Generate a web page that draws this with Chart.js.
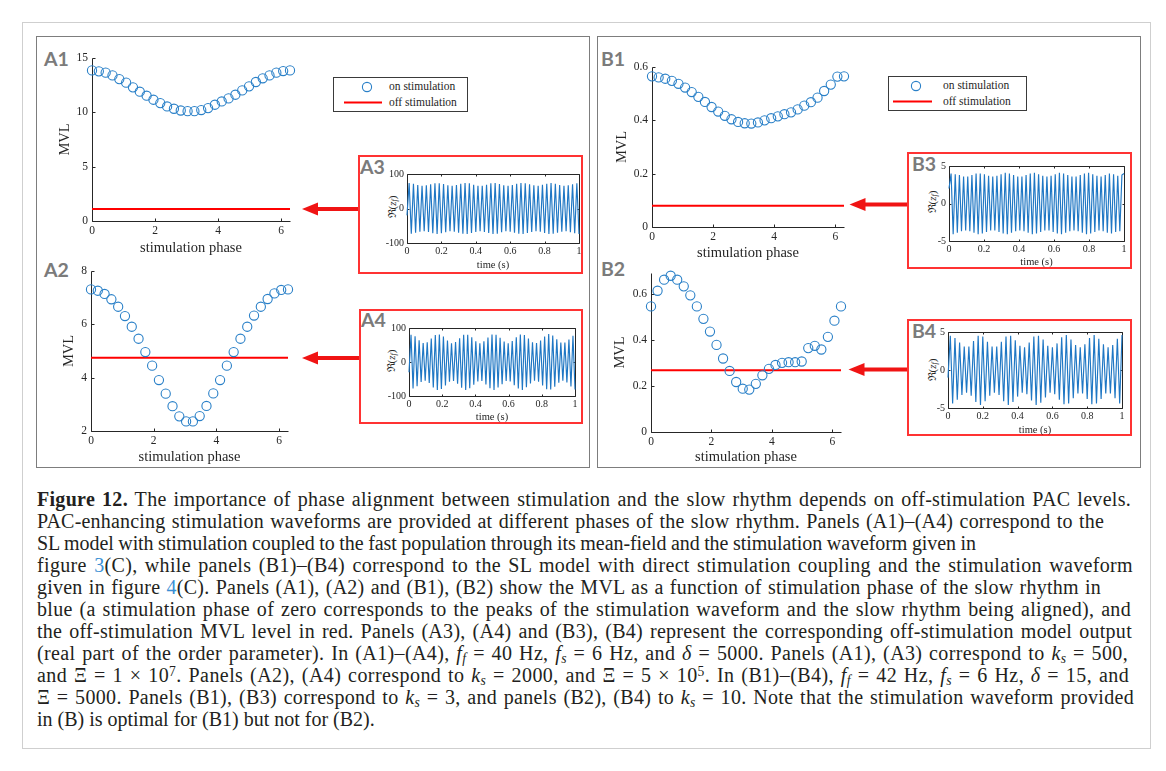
<!DOCTYPE html>
<html><head><meta charset="utf-8">
<script src="https://cdn.jsdelivr.net/npm/chart.js@4.4.1/dist/chart.umd.min.js"></script>
<style>
html,body{margin:0;padding:0;background:#fff}
body{width:1166px;height:771px;position:relative;overflow:hidden;font-family:'Liberation Serif',serif;color:#231f20}
canvas{position:absolute}
.box{position:absolute;box-sizing:border-box}
.plab{position:absolute;font:bold 19.5px/1 Lato,'Open Sans',sans-serif;color:#7b7b7b}
.leg{position:absolute;box-sizing:border-box;border:1px solid #3a3a3a;background:#fff}
.leg span{position:absolute;font:11.5px/1 'Liberation Serif',serif;color:#262626;white-space:nowrap}
.ylab{position:absolute;font:11px/1 'Liberation Serif','DejaVu Serif',serif;color:#262626;white-space:nowrap;transform:translate(-50%,-50%) rotate(-90deg)}
.ylab sub{font-size:0.7em;vertical-align:-0.2em;line-height:0}
.cl{position:absolute;left:37px;white-space:nowrap;font:20px/22px 'Liberation Serif',serif;color:#231f20}
.cl sub{font-size:0.68em;vertical-align:-0.25em;line-height:0}
.cl sup{font-size:0.68em;vertical-align:0.45em;line-height:0}
.lnk{color:#3a8fd4}
svg.ov{position:absolute;left:0;top:0}
</style></head><body>

<div class="box" style="left:22px;top:22px;width:1129px;height:727px;border:1px solid #cfcfcf"></div>
<div class="box" style="left:36px;top:36px;width:554px;height:432px;border:1px solid #7d7d7d"></div>
<div class="box" style="left:597px;top:36px;width:544px;height:432px;border:1px solid #7d7d7d"></div>

<div class="box" style="left:358px;top:155px;width:225px;height:119px;border:2px solid #ff3333"></div>
<div class="box" style="left:359px;top:309px;width:224px;height:115px;border:2px solid #ff3333"></div>
<div class="box" style="left:907px;top:152px;width:225px;height:117px;border:2px solid #ff3333"></div>
<div class="box" style="left:907px;top:319px;width:225px;height:117px;border:2px solid #ff3333"></div>

<svg class="ov" width="1166" height="771">
  <g fill="#f01414" stroke="none">
    <rect x="316" y="207" width="42" height="4"/><polygon points="302,209 318,202.5 318,215.5"/>
    <rect x="316" y="356" width="43" height="4"/><polygon points="302,358 318,351.5 318,364.5"/>
    <rect x="863" y="202.5" width="44" height="4"/><polygon points="849.5,204.5 865.5,198 865.5,211"/>
    <rect x="862" y="367.5" width="45" height="4"/><polygon points="848.5,369.5 864.5,363 864.5,376"/>
  </g>
</svg>

<div class="leg" style="left:333px;top:77px;width:135px;height:35px">
  <svg width="60" height="33" style="position:absolute;left:0;top:0"><circle cx="33" cy="9" r="4.6" fill="none" stroke="#2a80c8" stroke-width="1.1"/><line x1="10" y1="24.5" x2="48" y2="24.5" stroke="#ff0000" stroke-width="2"/></svg>
  <span style="left:55px;top:3px">on stimulation</span>
  <span style="left:55px;top:19px">off stimulation</span>
</div>
<div class="leg" style="left:888px;top:76px;width:139px;height:35px">
  <svg width="60" height="33" style="position:absolute;left:0;top:0"><circle cx="27" cy="9" r="4.6" fill="none" stroke="#2a80c8" stroke-width="1.1"/><line x1="4" y1="24.5" x2="43" y2="24.5" stroke="#ff0000" stroke-width="2"/></svg>
  <span style="left:54px;top:3px">on stimulation</span>
  <span style="left:54px;top:19px">off stimulation</span>
</div>

<div class="plab" style="left:44px;top:48.5px">A1</div>
<div class="plab" style="left:44px;top:259.8px">A2</div>
<div class="plab" style="left:601px;top:48.5px">B1</div>
<div class="plab" style="left:601px;top:258.5px">B2</div>
<div class="plab" style="left:360px;top:156.8px">A3</div>
<div class="plab" style="left:361px;top:309.5px">A4</div>
<div class="plab" style="left:912px;top:154px">B3</div>
<div class="plab" style="left:912px;top:321px">B4</div>

<div class="ylab" style="left:392px;top:207px">ℜ(<i>z</i><sub><i>f</i></sub>)</div>
<div class="ylab" style="left:391px;top:361px">ℜ(<i>z</i><sub><i>f</i></sub>)</div>
<div class="ylab" style="left:932px;top:202px">ℜ(<i>z</i><sub><i>f</i></sub>)</div>
<div class="ylab" style="left:932px;top:370px">ℜ(<i>z</i><sub><i>f</i></sub>)</div>

<div class="cl" data-r="1131" style="top:488px"><b>Figure 12.</b> The importance of phase alignment between stimulation and the slow rhythm depends on off-stimulation PAC levels.</div>
<div class="cl" data-r="1104" style="top:510px">PAC-enhancing stimulation waveforms are provided at different phases of the slow rhythm. Panels (A1)–(A4) correspond to the</div>
<div class="cl" data-r="976" style="top:532px">SL model with stimulation coupled to the fast population through its mean-field and the stimulation waveform given in</div>
<div class="cl" data-r="1133" style="top:554px">figure <span class="lnk">3</span>(C), while panels (B1)–(B4) correspond to the SL model with direct stimulation coupling and the stimulation waveform</div>
<div class="cl" data-r="1101" style="top:576px">given in figure <span class="lnk">4</span>(C). Panels (A1), (A2) and (B1), (B2) show the MVL as a function of stimulation phase of the slow rhythm in</div>
<div class="cl" data-r="1131" style="top:598px">blue (a stimulation phase of zero corresponds to the peaks of the stimulation waveform and the slow rhythm being aligned), and</div>
<div class="cl" data-r="1132" style="top:620px">the off-stimulation MVL level in red. Panels (A3), (A4) and (B3), (B4) represent the corresponding off-stimulation model output</div>
<div class="cl" data-r="1128" style="top:642px">(real part of the order parameter). In (A1)–(A4), <i>f<sub>f</sub></i> = 40 Hz, <i>f<sub>s</sub></i> = 6 Hz, and <i>δ</i> = 5000. Panels (A1), (A3) correspond to <i>k<sub>s</sub></i> = 500,</div>
<div class="cl" data-r="1129" style="top:664px">and Ξ = 1 × 10<sup>7</sup>. Panels (A2), (A4) correspond to <i>k<sub>s</sub></i> = 2000, and Ξ = 5 × 10<sup>5</sup>. In (B1)–(B4), <i>f<sub>f</sub></i> = 42 Hz, <i>f<sub>s</sub></i> = 6 Hz, <i>δ</i> = 15, and</div>
<div class="cl" data-r="1134" style="top:686px">Ξ = 5000. Panels (B1), (B3) correspond to <i>k<sub>s</sub></i> = 3, and panels (B2), (B4) to <i>k<sub>s</sub></i> = 10. Note that the stimulation waveform provided</div>
<div class="cl" style="top:708px">in (B) is optimal for (B1) but not for (B2).</div>

<script>
// ---------- data ----------
const PHASE = [0,0.2167,0.4333,0.65,0.8666,1.0833,1.3,1.5166,1.7333,1.95,2.1666,2.3833,2.6,2.8166,3.0333,3.25,3.4666,3.6833,3.9,4.1166,4.3333,4.55,4.7666,4.9833,5.2,5.4166,5.6333,5.85,6.0666,6.2832];
const PHASE_TICKS = [0,2,4,6];
const A1_ON = [13.86,13.77,13.65,13.40,13.06,12.73,12.30,11.90,11.53,11.16,10.85,10.54,10.33,10.17,10.11,10.11,10.21,10.39,10.70,11.00,11.28,11.62,12.02,12.39,12.79,13.13,13.40,13.65,13.80,13.86];
const A1_OFF = 1.1;
const A1_YTICKS = [0,5,10,15];
const A2_ON = [7.31,7.26,7.14,6.94,6.66,6.31,5.91,5.46,4.96,4.45,3.91,3.40,2.93,2.55,2.36,2.36,2.56,2.94,3.41,3.91,4.45,4.96,5.46,5.91,6.33,6.66,6.95,7.16,7.29,7.31];
const A2_OFF = 4.75;
const A2_YTICKS = [2,4,6,8];
const B1_ON = [0.565,0.561,0.556,0.548,0.537,0.523,0.506,0.488,0.469,0.450,0.433,0.417,0.404,0.394,0.389,0.388,0.392,0.400,0.408,0.415,0.423,0.430,0.441,0.455,0.468,0.485,0.510,0.534,0.564,0.565];
const B1_OFF = 0.08;
const B1_YTICKS = [0,0.2,0.4,0.6];
const B2_ON = [0.545,0.613,0.661,0.678,0.661,0.632,0.593,0.545,0.491,0.436,0.378,0.319,0.265,0.217,0.188,0.184,0.209,0.246,0.274,0.291,0.300,0.303,0.303,0.306,0.364,0.374,0.358,0.413,0.483,0.545];
const B2_OFF = 0.268;
const B2_YTICKS = [0,0.2,0.4,0.6];

const TIME_TICKS = [0,0.2,0.4,0.6,0.8,1];
const A_SIG_TICKS = [-100,0,100];
const B_SIG_TICKS = [-5,0,5];
// off-stimulation output: successive extrema of the real part over 1 s
const A3_SIG = [-20,74,-73,72,-70,68,-67,66,-66,67,-68,70,-72,73,-74,73,-72,71,-69,67,-66,66,-67,68,-70,72,-73,74,-74,73,-71,69,-68,66,-66,66,-68,69,-71,73,-74,74,-73,71,-69,67,-66,66,-67,68,-70,72,-73,74,-74,73,-71,70,-68,67,-66,66,-67,69,-71,72,-74,74,-73,72,-70,68,-67,66,-66,67,-69,70,-72,73,-74];
const A4_SIG = [-30,80,-78,76,-71,64,-59,56,-55,58,-62,69,-75,79,-82,81,-79,75,-69,63,-58,55,-56,59,-64,70,-76,80,-82,80,-77,73,-67,61,-57,55,-56,61,-66,72,-77,81,-82,80,-75,71,-65,60,-56,55,-57,62,-68,73,-78,81,-82,79,-74,69,-63,58,-55,56,-58,63,-69,75,-80,82,-81,78,-73,67,-61,57,-55,57,-60,66,-72,77,-81];
const B3_SIG = [2,4.0,-4.1,3.9,-3.9,3.8,-3.7,3.6,-3.6,3.6,-3.7,3.8,-3.9,4.0,-4.1,4.0,-4.0,3.9,-3.8,3.7,-3.6,3.6,-3.6,3.7,-3.8,3.9,-4.0,4.1,-4.1,4.0,-3.9,3.8,-3.7,3.6,-3.6,3.6,-3.7,3.8,-3.9,4.0,-4.1,4.1,-4.0,3.9,-3.8,3.7,-3.6,3.6,-3.6,3.7,-3.8,3.9,-4.0,4.1,-4.1,4.0,-3.9,3.8,-3.7,3.6,-3.6,3.6,-3.7,3.8,-3.9,4.0,-4.1,4.1,-4.0,3.9,-3.8,3.7,-3.6,3.6,-3.7,3.8,-3.9,4.0,-4.0,3.9,-3.8,3.7,-3.7,3.8,4.0];
const B4_SIG = [-1,4.5,-4.4,4.2,-3.9,3.6,-3.3,3.1,-3.0,3.1,-3.4,3.8,-4.2,4.5,-4.6,4.4,-4.1,3.7,-3.4,3.1,-3.0,3.1,-3.3,3.7,-4.1,4.4,-4.6,4.5,-4.2,3.9,-3.5,3.2,-3.0,3.0,-3.2,3.6,-4.0,4.4,-4.6,4.5,-4.3,4.0,-3.6,3.2,-3.0,3.0,-3.2,3.5,-3.9,4.3,-4.5,4.6,-4.4,4.0,-3.7,3.3,-3.1,3.0,-3.1,3.4,-3.8,4.2,-4.5,4.6,-4.4,4.1,-3.8,3.4,-3.1,3.0,-3.1,3.3,-3.7,4.1,-4.4,4.6];

// ---------- styling ----------
const BLUE = '#2a80c8', SIGBLUE = '#1f77c4', RED = '#ff0000', AX = '#262626';
const SERIF = "'Liberation Serif', 'Times New Roman', serif";

const matlabAxes = {
  id: 'matlabAxes',
  beforeDatasetsDraw(chart, args, opts) {
    const {ctx, chartArea: {left, right, top, bottom}, scales: {x, y}} = chart;
    const L = Math.round(left) + 0.5, R = Math.round(right) + 0.5, T = Math.round(top) + 0.5, B = Math.round(bottom) + 0.5;
    const tl = opts.tick || 3;
    ctx.save();
    ctx.strokeStyle = AX; ctx.lineWidth = 1;
    ctx.beginPath();
    ctx.moveTo(L, T); ctx.lineTo(L, B); ctx.lineTo(R, B);
    if (opts.box) { ctx.lineTo(R, T); ctx.lineTo(L, T); }
    x.ticks.forEach(t => {
      const p = Math.round(x.getPixelForValue(t.value)) + 0.5;
      ctx.moveTo(p, B); ctx.lineTo(p, B - tl);
      if (opts.box) { ctx.moveTo(p, T); ctx.lineTo(p, T + tl); }
    });
    y.ticks.forEach(t => {
      const p = Math.round(y.getPixelForValue(t.value)) + 0.5;
      ctx.moveTo(L, p); ctx.lineTo(L + tl, p);
      if (opts.box) { ctx.moveTo(R, p); ctx.lineTo(R - tl, p); }
    });
    ctx.stroke();
    ctx.restore();
  }
};

function makeChart(c) {
  const [l, t, r, b] = c.rect, [pl, pt, pr, pb] = c.pad;
  const L = l - pl, T = t - pt, W = r - l + pl + pr, H = b - t + pt + pb;
  const cv = document.createElement('canvas');
  cv.width = W; cv.height = H;
  Object.assign(cv.style, {left: L + 'px', top: T + 'px', width: W + 'px', height: H + 'px'});
  document.body.appendChild(cv);
  const tf = {family: SERIF, size: c.titleSize || 14.5, lineHeight: 1.2};
  const lh = tf.size * 1.2;
  const xTitle = c.xTitle ? {display: true, text: c.xTitle, font: tf, color: AX,
      padding: {top: 0, bottom: H - lh / 2 - (c.xTitleY - T)}} : {display: false};
  const yTitle = c.yTitle ? {display: true, text: c.yTitle, font: tf, color: AX,
      padding: {top: c.yTitleX - L - lh / 2, bottom: 0}} : {display: false};
  const tk = {family: SERIF, size: c.tickSize || 11.5};
  new Chart(cv, {
    type: 'scatter',
    data: {datasets: c.datasets},
    options: {
      responsive: false, animation: false, devicePixelRatio: 1, events: [],
      layout: {padding: {left: 0, top: pt, right: pr, bottom: 0}},
      plugins: {legend: {display: false}, tooltip: {enabled: false}, matlabAxes: {box: !!c.box, tick: c.tickLen || 3}},
      scales: {
        x: {type: 'linear', min: c.xr[0], max: c.xr[1],
            afterFit: s => { s.height = pb; },
            afterBuildTicks: s => { s.ticks = c.xt.map(v => ({value: v})); },
            grid: {display: false, drawTicks: false}, border: {display: false},
            ticks: {autoSkip: false, maxRotation: 0, padding: c.xPad || 3, font: tk, color: AX, callback: v => String(v)},
            title: xTitle},
        y: {type: 'linear', min: c.yr[0], max: c.yr[1],
            afterFit: s => { s.width = pl; },
            afterBuildTicks: s => { s.ticks = c.yt.map(v => ({value: v})); },
            grid: {display: false, drawTicks: false}, border: {display: false},
            ticks: {autoSkip: false, padding: c.yPad || 4, font: tk, color: AX, callback: v => String(v)},
            title: yTitle}
      }
    },
    plugins: [matlabAxes]
  });
}

function mainSets(on, off) {
  return [
    {data: PHASE.map((x, i) => ({x, y: on[i]})), showLine: false, pointRadius: 4.6, pointBorderWidth: 1.1,
     pointBorderColor: BLUE, pointBackgroundColor: 'rgba(0,0,0,0)', clip: false},
    {data: [{x: PHASE[0], y: off}, {x: PHASE[PHASE.length - 1], y: off}], showLine: true, borderColor: RED,
     borderWidth: 2, pointRadius: 0, clip: false}
  ];
}
function sigSet(sig) {
  return [{data: sig.map((y, i) => ({x: i / (sig.length - 1), y})), showLine: true, borderColor: SIGBLUE,
           borderWidth: 1.15, pointRadius: 0, tension: 0, clip: false}];
}

function build() {
  const TWO_PI = PHASE[PHASE.length - 1];
  const mainPad = [46, 14, 14, 44];
  makeChart({rect: [92, 58, 290, 221], pad: mainPad, xr: [0, TWO_PI], yr: [0, 15], xt: PHASE_TICKS, yt: A1_YTICKS,
    datasets: mainSets(A1_ON, A1_OFF), xTitle: 'stimulation phase', xTitleY: 248, yTitle: 'MVL', yTitleX: 65});
  makeChart({rect: [91, 271, 288, 431], pad: mainPad, xr: [0, TWO_PI], yr: [2, 8], xt: PHASE_TICKS, yt: A2_YTICKS,
    datasets: mainSets(A2_ON, A2_OFF), xTitle: 'stimulation phase', xTitleY: 457.5, yTitle: 'MVL', yTitleX: 69});
  makeChart({rect: [652, 67, 844, 227], pad: mainPad, xr: [0, TWO_PI], yr: [0, 0.6], xt: PHASE_TICKS, yt: B1_YTICKS,
    datasets: mainSets(B1_ON, B1_OFF), xTitle: 'stimulation phase', xTitleY: 253.5, yTitle: 'MVL', yTitleX: 622});
  makeChart({rect: [651, 273, 841, 432], pad: mainPad, xr: [0, TWO_PI], yr: [0, 0.69], xt: PHASE_TICKS, yt: B2_YTICKS,
    datasets: mainSets(B2_ON, B2_OFF), xTitle: 'stimulation phase', xTitleY: 457.5, yTitle: 'MVL', yTitleX: 620});

  const insPad = [30, 8, 8, 30];
  makeChart({rect: [407, 173, 579, 243], pad: insPad, xr: [0, 1], yr: [-100, 100], xt: TIME_TICKS, yt: A_SIG_TICKS, box: true,
    datasets: sigSet(A3_SIG), xTitle: 'time (s)', xTitleY: 265, titleSize: 10.5, tickSize: 10, tickLen: 2, xPad: 2, yPad: 3});
  makeChart({rect: [409, 327, 575, 396], pad: insPad, xr: [0, 1], yr: [-100, 100], xt: TIME_TICKS, yt: A_SIG_TICKS, box: true,
    datasets: sigSet(A4_SIG), xTitle: 'time (s)', xTitleY: 417, titleSize: 10.5, tickSize: 10, tickLen: 2, xPad: 2, yPad: 3});
  makeChart({rect: [949, 165, 1124, 241], pad: insPad, xr: [0, 1], yr: [-5, 5], xt: TIME_TICKS, yt: B_SIG_TICKS, box: true,
    datasets: sigSet(B3_SIG), xTitle: 'time (s)', xTitleY: 262, titleSize: 10.5, tickSize: 10, tickLen: 2, xPad: 2, yPad: 3});
  makeChart({rect: [948, 331, 1122, 408], pad: insPad, xr: [0, 1], yr: [-5, 5], xt: TIME_TICKS, yt: B_SIG_TICKS, box: true,
    datasets: sigSet(B4_SIG), xTitle: 'time (s)', xTitleY: 430, titleSize: 10.5, tickSize: 10, tickLen: 2, xPad: 2, yPad: 3});

  // fit caption lines to their right edges: spread the difference over letters and spaces
  document.querySelectorAll('.cl[data-r]').forEach(el => {
    const target = +el.dataset.r - 37;
    const w = el.getBoundingClientRect().width;
    const txt = el.textContent;
    const nSp = (txt.match(/ /g) || []).length;
    const nCh = txt.length;
    const extra = target - w;
    el.style.letterSpacing = (extra * 0.55 / nCh).toFixed(3) + 'px';
    if (nSp > 0) el.style.wordSpacing = (extra * 0.45 / nSp).toFixed(3) + 'px';
  });
}

Promise.all([
  document.fonts.load("14px 'Liberation Serif'"),
  document.fonts.load("bold 19px Lato")
]).then(build, build);
</script>
</body></html>
